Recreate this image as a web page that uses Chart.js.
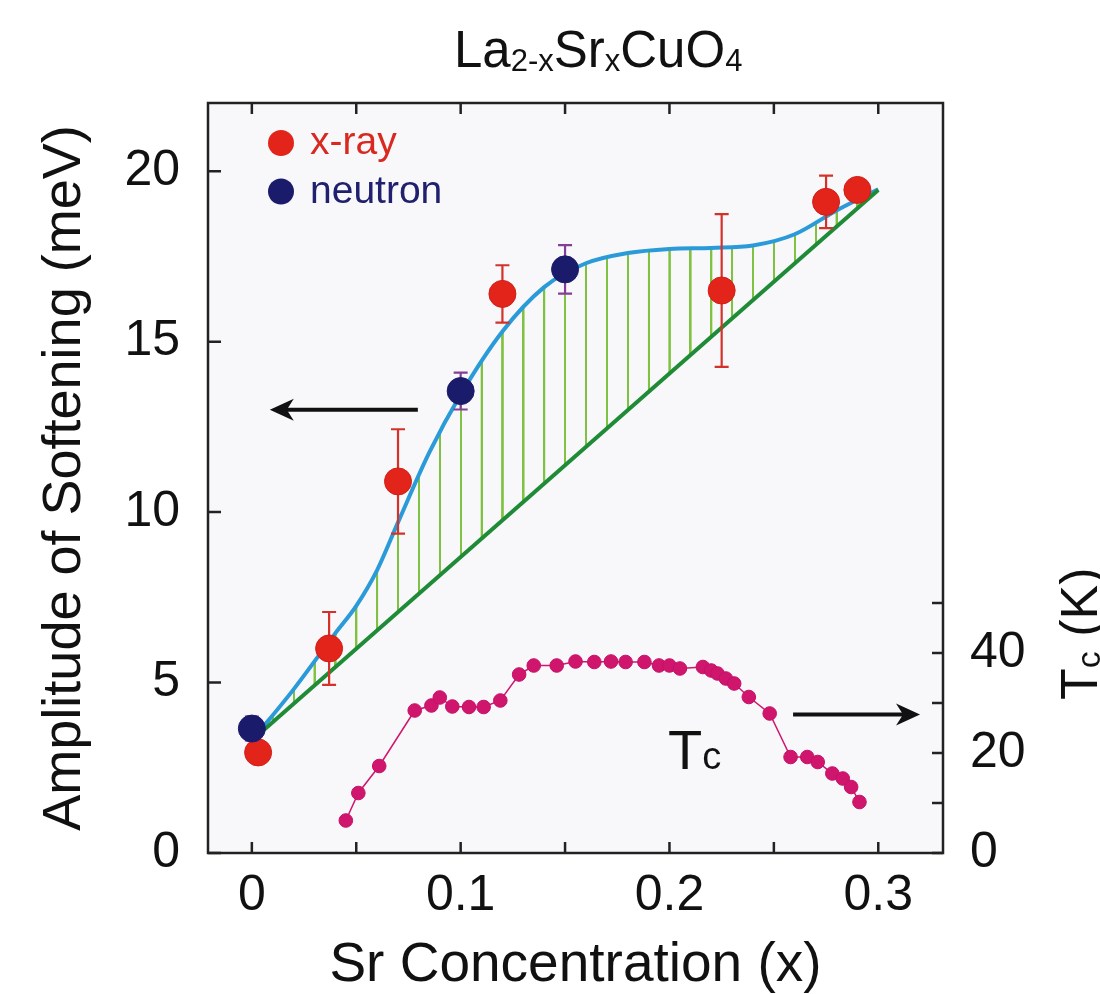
<!DOCTYPE html>
<html lang="en">
<head>
<meta charset="UTF-8">
<title>La2-xSrxCuO4 - Amplitude of Softening</title>
<script src="https://cdn.jsdelivr.net/npm/chart.js"></script>
<style>
  html, body { margin: 0; padding: 0; background: #fff; }
  #wrap { width: 1100px; height: 994px; }
</style>
</head>
<body>
<div id="wrap"><canvas id="chart"></canvas></div>
<script>
// x-ray points: Sr concentration, softening (meV), error bar
const xrayX = [0.003, 0.037, 0.070, 0.120, 0.225, 0.275, 0.290];
const xrayY = [2.95, 6.0, 10.9, 16.4, 16.5, 19.1, 19.45];
const xrayErr = [0.3, 1.07, 1.53, 0.84, 2.24, 0.77, 0.2];

// neutron points
const neutronX = [0.0, 0.100, 0.150];
const neutronY = [3.65, 13.55, 17.12];
const neutronErr = [0.35, 0.54, 0.71];

// smooth guide (blue curve)
const curveX = [0, 0.02, 0.04, 0.05, 0.06, 0.07, 0.085, 0.1, 0.12, 0.14, 0.16, 0.18, 0.2, 0.22, 0.24, 0.26, 0.28, 0.3];
const curveY = [3.3, 4.8, 6.45, 7.25, 8.3, 9.7, 11.75, 13.45, 15.3, 16.6, 17.3, 17.6, 17.72, 17.75, 17.82, 18.15, 18.85, 19.47];

// straight baseline (green)
const baseX = [0, 0.3];
const baseY = [3.3, 19.45];

// Tc (K), right axis
const tcX = [0.045, 0.051, 0.061, 0.078, 0.086, 0.090, 0.096, 0.104, 0.111, 0.119, 0.128, 0.135,
             0.146, 0.155, 0.164, 0.172, 0.179, 0.188, 0.195, 0.200, 0.205, 0.216, 0.220, 0.223,
             0.227, 0.231, 0.238, 0.248, 0.258, 0.266, 0.271, 0.278, 0.283, 0.287, 0.291];
const tcY = [6.5, 12.0, 17.4, 28.5, 29.5, 31.1, 29.3, 29.2, 29.2, 30.5, 35.7, 37.5,
             37.5, 38.3, 38.2, 38.3, 38.2, 38.2, 37.5, 37.5, 36.9, 37.2, 36.5, 35.9,
             34.9, 33.9, 31.2, 27.9, 19.2, 19.2, 18.2, 15.9, 14.9, 13.2, 10.2];

const xTicks = [0, 0.1, 0.2, 0.3];
const xMinorTicks = [0, 0.05, 0.1, 0.15, 0.2, 0.25, 0.3];
const yTicks = [0, 5, 10, 15, 20];
const tcTicks = [0, 10, 20, 30, 40, 50];
const tcLabelled = [0, 20, 40];
const hatchStep = 0.01;

const FONT = "'Liberation Sans', Arial, Helvetica, sans-serif";
const pts = (xs, ys) => xs.map((x, i) => ({x: x, y: ys[i]}));

// vertical green hatching between curve and baseline
function hatch(c) {
    const xs = c.chart.scales.x;
    if (!xs || !xs.width) return 'rgba(0,0,0,0)';
    const x0 = xs.getPixelForValue(0);
    const step = xs.getPixelForValue(hatchStep) - x0;
    const cv = document.createElement('canvas');
    cv.width = 100; cv.height = 8;
    const g = cv.getContext('2d');
    g.fillStyle = '#7fc241';
    g.fillRect(0, 0, 2.2 * 100 / step, 8);
    const p = c.chart.ctx.createPattern(cv, 'repeat');
    p.setTransform(new DOMMatrix().translate(x0 - 1, 0).scale(step / 100, 1));
    return p;
}

function subText(ctx, parts, x, y, big, small, drop) {
    parts.forEach(function (p) {
        ctx.font = (p[1] ? small : big) + 'px ' + FONT;
        ctx.fillText(p[0], x, y + (p[1] ? drop : 0));
        x += ctx.measureText(p[0]).width;
    });
    return x;
}

function arrow(ctx, x1, y1, x2, y2) {
    const dir = Math.sign(x2 - x1);
    ctx.beginPath();
    ctx.moveTo(x1, y1);
    ctx.lineTo(x2 - dir * 14, y2);
    ctx.stroke();
    ctx.beginPath();
    ctx.moveTo(x2, y2);
    ctx.lineTo(x2 - dir * 24, y2 - 11);
    ctx.lineTo(x2 - dir * 17, y2);
    ctx.lineTo(x2 - dir * 24, y2 + 11);
    ctx.closePath();
    ctx.fill();
}

const decor = {
    id: 'decor',
    beforeDraw(chart) {
        const {ctx, chartArea: a} = chart;
        ctx.save();
        ctx.fillStyle = '#f8f8fa';
        ctx.fillRect(a.left, a.top, a.right - a.left, a.bottom - a.top);
        ctx.restore();
    },
    beforeDatasetDraw(chart, args) {
        const ds = chart.data.datasets[args.index];
        if (!ds.errors) return;
        const ctx = chart.ctx, xs = chart.scales.x, ys = chart.scales.y;
        ctx.save();
        ctx.strokeStyle = ds.errColor;
        ctx.lineWidth = 2.2;
        ds.data.forEach(function (p, i) {
            const px = xs.getPixelForValue(p.x);
            const t = ys.getPixelForValue(p.y + ds.errors[i]);
            const b = ys.getPixelForValue(p.y - ds.errors[i]);
            ctx.beginPath();
            ctx.moveTo(px, t); ctx.lineTo(px, b);
            ctx.moveTo(px - 7, t); ctx.lineTo(px + 7, t);
            ctx.moveTo(px - 7, b); ctx.lineTo(px + 7, b);
            ctx.stroke();
        });
        ctx.restore();
    },
    afterDatasetsDraw(chart) {
        const {ctx, chartArea: a} = chart;
        const xs = chart.scales.x, ys = chart.scales.y, ts = chart.scales.y2;
        ctx.save();

        // frame
        ctx.strokeStyle = '#222';
        ctx.lineWidth = 2.5;
        ctx.strokeRect(a.left, a.top, a.right - a.left, a.bottom - a.top);

        // inward tick marks
        ctx.beginPath();
        xMinorTicks.forEach(function (v) {
            const px = xs.getPixelForValue(v);
            ctx.moveTo(px, a.bottom); ctx.lineTo(px, a.bottom - 11);
            ctx.moveTo(px, a.top); ctx.lineTo(px, a.top + 11);
        });
        yTicks.forEach(function (v) {
            const py = ys.getPixelForValue(v);
            ctx.moveTo(a.left, py); ctx.lineTo(a.left + 13, py);
        });
        tcTicks.forEach(function (v) {
            const py = ts.getPixelForValue(v);
            ctx.moveTo(a.right, py); ctx.lineTo(a.right - 11, py);
        });
        ctx.stroke();

        // arrows pointing to the axes
        ctx.strokeStyle = '#111';
        ctx.fillStyle = '#111';
        ctx.lineWidth = 4;
        arrow(ctx, xs.getPixelForValue(0.0795), ys.getPixelForValue(13.0),
                   xs.getPixelForValue(0.0086), ys.getPixelForValue(13.0));
        arrow(ctx, xs.getPixelForValue(0.2592), ts.getPixelForValue(27.7),
                   xs.getPixelForValue(0.3200), ts.getPixelForValue(27.7));

        // Tc label inside the plot
        ctx.textBaseline = 'alphabetic';
        ctx.textAlign = 'left';
        subText(ctx, [['T', 0], ['c', 1]], xs.getPixelForValue(0.1993), ts.getPixelForValue(16.9), 56, 38, 0);

        // legend (inside, top-left)
        [0, 1].forEach(function (k, i) {
            const ds = chart.data.datasets[k];
            const cy = a.top + 40 + i * 48.5;
            ctx.fillStyle = ds.pointBackgroundColor;
            ctx.beginPath();
            ctx.arc(a.left + 73, cy, 13, 0, Math.PI * 2);
            ctx.fill();
            ctx.fillStyle = ds.textColor;
            ctx.font = '39px ' + FONT;
            ctx.textBaseline = 'alphabetic';
            ctx.fillText(ds.label, a.left + 102, cy + 11);
        });

        // title with subscripts
        ctx.fillStyle = '#111';
        subText(ctx, [['La', 0], ['2-x', 1], ['Sr', 0], ['x', 1], ['CuO', 0], ['4', 1]], 454, 67, 51, 31, 4);

        // right axis title, rotated
        ctx.translate(1097, 700);
        ctx.rotate(-Math.PI / 2);
        subText(ctx, [['T', 0], ['c', 1], [' (K)', 0]], 0, 0, 52, 34, 3);
        ctx.restore();
    }
};

const ctx = document.getElementById('chart').getContext('2d');
new Chart(ctx, {
    type: 'line',
    data: {
        datasets: [
            {
                label: 'x-ray',
                data: pts(xrayX, xrayY),
                errors: xrayErr,
                errColor: '#d3322a',
                textColor: '#d8281f',
                showLine: false,
                pointRadius: 13.5,
                pointBackgroundColor: '#e2241b',
                pointBorderColor: '#cf1f17',
                pointBorderWidth: 1,
                order: 1
            },
            {
                label: 'neutron',
                data: pts(neutronX, neutronY),
                errors: neutronErr,
                errColor: '#843e96',
                textColor: '#20206e',
                showLine: false,
                pointRadius: 13.5,
                pointBackgroundColor: '#1b1b6c',
                pointBorderColor: '#1b1b6c',
                pointBorderWidth: 1,
                order: 0
            },
            {
                label: 'Tc',
                data: pts(tcX, tcY),
                yAxisID: 'y2',
                borderColor: '#d0156d',
                borderWidth: 1.5,
                pointRadius: 6.8,
                pointBackgroundColor: '#d0156d',
                pointBorderColor: '#c4106a',
                pointBorderWidth: 1,
                tension: 0,
                order: 2
            },
            {
                label: 'baseline',
                data: pts(baseX, baseY),
                borderColor: '#1f8b36',
                borderWidth: 4,
                pointRadius: 0,
                order: 3
            },
            {
                label: 'curve',
                data: pts(curveX, curveY),
                borderColor: '#2a9bd8',
                borderWidth: 4,
                pointRadius: 0,
                cubicInterpolationMode: 'monotone',
                fill: 3,
                backgroundColor: hatch,
                order: 4
            }
        ]
    },
    options: {
        responsive: true,
        maintainAspectRatio: false,
        animation: false,
        layout: { padding: { top: 103, left: 0, right: 0, bottom: 0 } },
        plugins: {
            legend: { display: false },
            tooltip: { enabled: false },
            filler: { propagate: false }
        },
        scales: {
            x: {
                type: 'linear',
                min: -0.021,
                max: 0.331,
                afterBuildTicks: function (s) { s.ticks = xTicks.map(v => ({value: v})); },
                afterFit: function (s) { s.height = 141; },
                grid: { display: false, drawTicks: false },
                border: { display: false },
                ticks: {
                    autoSkip: false, maxRotation: 0, padding: 13,
                    color: '#111', font: { family: FONT, size: 50 },
                    callback: v => String(v)
                },
                title: {
                    display: true, text: 'Sr Concentration (x)', color: '#111',
                    font: { family: FONT, size: 55, lineHeight: 1 },
                    padding: { top: 0, bottom: 1 }
                }
            },
            y: {
                position: 'left',
                min: 0,
                max: 22,
                afterBuildTicks: function (s) { s.ticks = yTicks.map(v => ({value: v})); },
                afterFit: function (s) { s.width = 208; },
                grid: { display: false, drawTicks: false },
                border: { display: false },
                ticks: {
                    padding: 28, color: '#111', font: { family: FONT, size: 50 },
                    callback: v => String(v)
                },
                title: {
                    display: true, text: 'Amplitude of Softening (meV)', color: '#111',
                    font: { family: FONT, size: 54, lineHeight: 1 },
                    padding: { top: 38, bottom: 0 }
                }
            },
            y2: {
                position: 'right',
                min: 0,
                max: 150,
                afterBuildTicks: function (s) { s.ticks = tcTicks.map(v => ({value: v})); },
                afterFit: function (s) { s.width = 157; },
                grid: { display: false, drawTicks: false },
                border: { display: false },
                ticks: {
                    padding: 27, color: '#111', font: { family: FONT, size: 50 },
                    callback: v => tcLabelled.includes(v) ? String(v) : ''
                }
            }
        }
    },
    plugins: [decor]
});
</script>
</body>
</html>
